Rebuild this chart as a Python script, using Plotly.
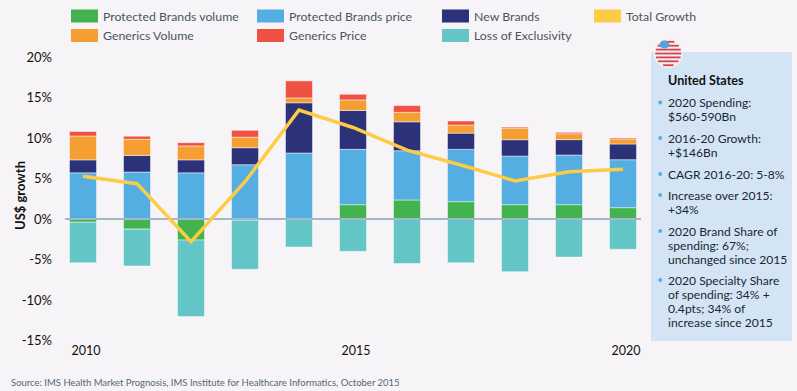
import math
import plotly.graph_objects as go

years = [2010, 2011, 2012, 2013, 2014, 2015, 2016, 2017, 2018, 2019, 2020]
pb_volume = [-0.4, -1.25, -2.6, -0.15, 0.05, 1.77, 2.35, 2.14, 1.77, 1.77, 1.4]
pb_price = [5.7, 5.8, 5.7, 6.7, 8.1, 6.83, 6.08, 6.46, 6.0, 6.13, 5.92]
new_brands = [1.6, 2.05, 1.6, 2.1, 6.2, 4.8, 3.57, 2.0, 2.02, 1.9, 1.94]
generics_volume = [2.95, 2.0, 1.72, 1.3, 0.6, 1.3, 1.17, 1.0, 1.43, 0.73, 0.62]
generics_price = [0.55, 0.37, 0.4, 0.85, 2.1, 0.7, 0.83, 0.5, 0.13, 0.17, 0.12]
loss_exclusivity = [-5.0, -4.55, -9.45, -6.05, -3.46, -3.99, -5.5, -5.4, -6.5, -4.7, -3.74]
total_growth = [5.27, 4.36, -2.8, 4.6, 13.46, 11.3, 8.5, 6.67, 4.7, 5.84, 6.13]

y_ticks = [20, 15, 10, 5, 0, -5, -10, -15]
y_tick_labels = ["20%", "15%", "10%", "5%", "0%", "-5%", "-10%", "-15%"]
x_ticks = [2010, 2015, 2020]

legend_rows = [
    ("Protected Brands volume", "#42b34f", 71, 16),
    ("Protected Brands price", "#54aee2", 257, 16),
    ("New Brands", "#2c3277", 442, 16),
    ("Total Growth", "#fdcb45", 594, 16),
    ("Generics Volume", "#f59f33", 71, 35.5),
    ("Generics Price", "#ef5143", 257, 35.5),
    ("Loss of Exclusivity", "#63c5c6", 442, 35.5),
]
panel_title = "United States"
panel_items = [
    (["2020 Spending:", "$560-590Bn"], 102.7),
    (["2016-20 Growth:", "+$146Bn"], 138),
    (["CAGR 2016-20: 5-8%"], 174),
    (["Increase over 2015:", "+34%"], 195),
    (["2020 Brand Share of", "spending: 67%;", "unchanged since 2015"], 231),
    (["2020 Specialty Share", "of spending: 34% +", "0.4pts; 34% of", "increase since 2015"], 280),
]
source = "Source: IMS Health Market Prognosis, IMS Institute for Healthcare Informatics, October 2015"

W, H = 797, 391
L, R, T, B = 65, 641, 42, 343
PXU = 54.0
PXP = 8.1
ZERO = 219
x0 = 2010 - (83 - L) / PXU
x1 = 2010 + (R - 83) / PXU
BG = "#f6f4f6"
FONT = "Lato"
TXT = "#3d4a57"


def px(x):
    return (x - L) / (R - L)


def py(y):
    return 1 - (y - T) / (B - T)


def bar(name, vals, color):
    return go.Bar(x=years, y=vals, name=name, width=0.5, showlegend=False,
                  marker=dict(color=color, line=dict(color="rgba(255,255,255,0.45)", width=1)))


fig = go.Figure()
fig.add_trace(bar("Protected Brands volume", pb_volume, "#42b34f"))
fig.add_trace(bar("Protected Brands price", pb_price, "#54aee2"))
fig.add_trace(bar("New Brands", new_brands, "#2c3277"))
fig.add_trace(bar("Generics Volume", generics_volume, "#f59f33"))
fig.add_trace(bar("Generics Price", generics_price, "#ef5143"))
fig.add_trace(bar("Loss of Exclusivity", loss_exclusivity, "#63c5c6"))
fig.add_trace(go.Scatter(x=[x0, x1], y=[0, 0], mode="lines", showlegend=False, hoverinfo="skip",
                         line=dict(color="#a3b8ca", width=2)))
fig.add_trace(go.Scatter(x=years, y=total_growth, mode="lines", name="Total Growth", showlegend=False,
                         line=dict(color="#fdcb45", width=3.5)))

shapes = []
annotations = []


def rect(x_a, y_a, x_b, y_b, color):
    shapes.append(dict(type="rect", xref="paper", yref="paper", x0=px(x_a), x1=px(x_b),
                       y0=py(y_b), y1=py(y_a), fillcolor=color, line=dict(width=0), layer="below"))


def text(s, x, y, size, color=TXT, anchor="left", bold=False):
    annotations.append(dict(text=f"<b>{s}</b>" if bold else s, x=px(x), y=py(y), xref="paper", yref="paper",
                            xanchor=anchor, yanchor="middle", showarrow=False, align=anchor,
                            font=dict(family=FONT, size=size, color=color), borderpad=0))


for label, color, lx, ly in legend_rows:
    rect(lx, ly - 6.5, lx + 27, ly + 6.5, color)
    text(label, lx + 31, ly, 12.3, "#4b5560")

# information panel
rect(651, 52, 792, 341, "#d3e5f5")
text(panel_title, 667, 81, 12.6, "#111111", bold=True)
LINE = 14.3
for lines, top in panel_items:
    shapes.append(dict(type="circle", xref="paper", yref="paper", x0=px(658.2), x1=px(662.2),
                       y0=py(top + 1.9), y1=py(top - 2.1), fillcolor="#54aee2", line=dict(width=0)))
    for i, ln in enumerate(lines):
        text(ln, 667, top + i * LINE, 12.1, "#1c2530")

# flag badge
CX, CY, RAD = 668.3, 53.3, 13.0
shapes.append(dict(type="circle", xref="paper", yref="paper", x0=px(CX - RAD - 1.5), x1=px(CX + RAD + 1.5),
                   y0=py(CY + RAD + 2), y1=py(CY - RAD - 1), fillcolor="#eef0f2", line=dict(width=0)))
for k in range(7):
    yy = CY - RAD + 1.5 + k * 3.9
    half = math.sqrt(max(RAD ** 2 - (yy - CY) ** 2, 0))
    shapes.append(dict(type="line", xref="paper", yref="paper", x0=px(CX - half), x1=px(CX + half),
                       y0=py(yy), y1=py(yy), line=dict(color="#d9434e", width=1.8)))
shapes.append(dict(type="circle", xref="paper", yref="paper", x0=px(659.5), x1=px(669.5),
                   y0=py(48.5), y1=py(40.5), fillcolor="#54a3dc", line=dict(width=0)))

text(source, 10, 382.5, 9.5, "#586674")
annotations.append(dict(text="<b>US$ growth</b>", x=px(20), y=py(196), xref="paper", yref="paper", textangle=-90,
                        xanchor="center", yanchor="middle", showarrow=False,
                        font=dict(family=FONT, size=13, color="#111111")))

fig.update_layout(
    width=W, height=H, autosize=False,
    margin=dict(l=L, r=W - R, t=T, b=H - B, pad=0),
    paper_bgcolor=BG, plot_bgcolor=BG,
    barmode="relative", showlegend=False,
    font=dict(family=FONT, size=13, color="#111111"),
    xaxis=dict(range=[x0, x1], tickmode="array", tickvals=x_ticks, showgrid=False, zeroline=False,
               showline=False, ticks="", ticklabelshift=3, ticklabelstandoff=-2,
               tickfont=dict(family=FONT, size=12.5, color="#111111")),
    yaxis=dict(range=[(ZERO - B) / PXP, (ZERO - T) / PXP], tickmode="array", tickvals=y_ticks,
               ticktext=y_tick_labels, showgrid=False, zeroline=False, showline=False, ticks="",
               ticklabelstandoff=12, automargin=False,
               tickfont=dict(family=FONT, size=13, color="#111111")),
    shapes=shapes, annotations=annotations,
)
fig.write_html("out.html", config={"displayModeBar": False},
               post_script="document.body.style.margin='0';document.body.style.background='#f6f4f6';")
